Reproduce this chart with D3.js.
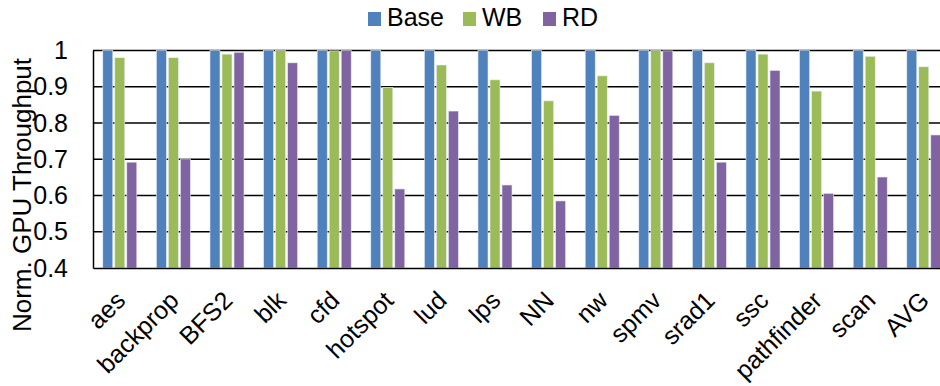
<!DOCTYPE html>
<html>
<head>
<meta charset="utf-8">
<script src="https://cdn.jsdelivr.net/npm/d3@7"></script>
<style>
  body { margin: 0; background: white; }
  svg { display: block; font-family: Arial, "Liberation Sans", sans-serif; }
</style>
</head>
<body>
<div id="main"></div>
<script>
// data
const categories = ["aes", "backprop", "BFS2", "blk", "cfd", "hotspot", "lud", "lps", "NN",
  "nw", "spmv", "srad1", "ssc", "pathfinder", "scan", "AVG"];
const seriesNames = ["Base", "WB", "RD"];
const base = [1, 1, 1, 1, 1, 1, 1, 1, 1, 1, 1, 1, 1, 1, 1, 1];
const wb = [0.98, 0.98, 0.99, 1.0, 0.999, 0.898, 0.96, 0.919, 0.861, 0.93, 1.0, 0.966, 0.99, 0.888, 0.984, 0.955];
const rd = [0.692, 0.701, 0.995, 0.966, 1.0, 0.618, 0.833, 0.629, 0.585, 0.821, 0.999, 0.692, 0.945, 0.606, 0.651, 0.767];
const yTicks = [0.4, 0.5, 0.6, 0.7, 0.8, 0.9, 1];
const colors = ["#4F81BD", "#9BBB59", "#8064A2"];

const width = 940;
const height = 386;
const margin = { top: 50.5, bottom: 118, left: 93 };
const step = 53.6;
const font = "Arial, 'Liberation Sans', sans-serif";

const svg = d3.select("#main")
  .append("svg")
  .attr("width", width)
  .attr("height", height);

const x = d3.scaleBand()
  .domain(categories)
  .range([margin.left, margin.left + step * categories.length])
  .paddingInner(0)
  .paddingOuter(0);

const x1 = d3.scaleBand()
  .domain(seriesNames)
  .range([9.8, step - 9.8])
  .paddingInner(0.167);

const y = d3.scaleLinear()
  .domain([0.4, 1])
  .range([height - margin.bottom, margin.top]);

const color = d3.scaleOrdinal().domain(seriesNames).range(colors);

// gridlines
svg.append("g")
  .selectAll("line")
  .data(yTicks.slice(1))
  .join("line")
    .attr("x1", margin.left)
    .attr("x2", width)
    .attr("y1", d => y(d))
    .attr("y2", d => y(d))
    .attr("stroke", "black")
    .attr("stroke-width", 1.3);

// bars
const rows = categories.map((c, i) => ({ cat: c, values: [base[i], wb[i], rd[i]] }));

svg.append("g")
  .selectAll("g")
  .data(rows)
  .join("g")
    .attr("transform", d => `translate(${x(d.cat)},0)`)
  .selectAll("rect")
  .data(d => d.values.map((v, j) => ({ key: seriesNames[j], value: v })))
  .join("rect")
    .attr("x", d => x1(d.key))
    .attr("y", d => y(d.value))
    .attr("width", x1.bandwidth())
    .attr("height", d => y(0.4) - y(d.value))
    .attr("fill", d => color(d.key))
    .attr("stroke", "#e8ecf4")
    .attr("stroke-width", 0.6);

// y axis
svg.append("g")
  .attr("transform", `translate(${margin.left},0)`)
  .call(d3.axisLeft(y).tickValues(yTicks).tickFormat(d => d === 1 ? "1" : d3.format(".1f")(d)).tickSize(0).tickPadding(25))
  .call(g => g.select(".domain").attr("stroke", "black").attr("stroke-width", 1.5))
  .call(g => g.selectAll("text").attr("font-size", "25px").attr("fill", "black").attr("font-family", font));

// x axis
svg.append("g")
  .attr("transform", `translate(0,${y(0.4)})`)
  .call(d3.axisBottom(x).tickSize(0).tickPadding(0))
  .call(g => g.select(".domain").attr("stroke", "black").attr("stroke-width", 1.5))
  .call(g => g.selectAll("text")
    .attr("font-size", "25px")
    .attr("fill", "black")
    .attr("font-family", font)
    .attr("text-anchor", "end")
    .attr("dy", null)
    .attr("transform", "translate(7,34) rotate(-45)"));

// y title
svg.append("text")
  .attr("transform", `translate(31,195) rotate(-90)`)
  .attr("text-anchor", "middle")
  .attr("font-size", "26px")
  .text("Norm. GPU Throughput");

// legend
const legendX = [368, 463, 543];
const legend = svg.append("g")
  .selectAll("g")
  .data(seriesNames)
  .join("g")
    .attr("transform", (d, i) => `translate(${legendX[i]},12)`);

legend.append("rect")
  .attr("width", 13)
  .attr("height", 14)
  .attr("fill", d => color(d));

legend.append("text")
  .attr("x", 19)
  .attr("y", 14)
  .attr("font-size", "25px")
  .text(d => d);
</script>
</body>
</html>
